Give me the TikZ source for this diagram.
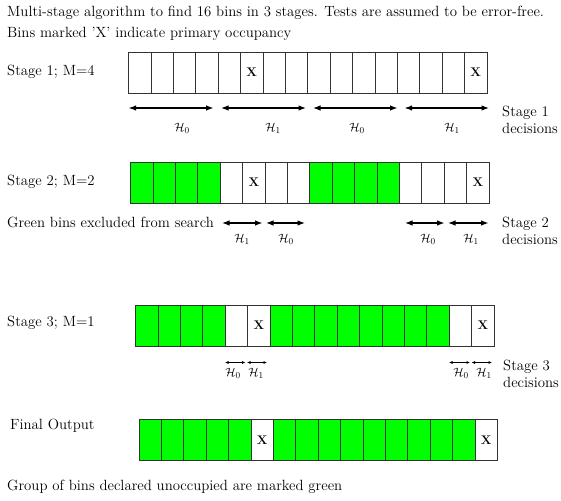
\documentclass[tikz,border=0pt]{standalone}
\usetikzlibrary{arrows.meta}
\definecolor{bingreen}{RGB}{0,255,0}
\begin{document}
\begin{tikzpicture}[x=1pt,y=-1pt,
  cell/.style={draw=black!80, line width=0.9pt, minimum width=22.4pt, minimum height=41pt, inner sep=0pt, outer sep=0pt},
  gcell/.style={cell, fill=bingreen},
  xmark/.style={inner sep=0pt, font=\fontsize{12.5}{12.5}\selectfont\bfseries},
  lbl/.style={anchor=west, inner sep=0pt, font=\fontsize{14.8}{17}\selectfont},
  declbl/.style={anchor=west, inner sep=0pt, align=left, font=\fontsize{14.8}{17}\selectfont},
  hyp/.style={inner sep=0pt, font=\fontsize{12.5}{12.5}\selectfont},
  bigdec/.style={{Latex[length=7.5pt,width=5.5pt]}-{Latex[length=7.5pt,width=5.5pt]}, line width=1.2pt},
  smalldec/.style={{Latex[length=3.5pt,width=3pt]}-{Latex[length=3.5pt,width=3pt]}, line width=0.8pt}
]
\useasboundingbox (0,0) rectangle (561,500);

% texts
\node[lbl] (title1) at (7,12.7) {Multi-stage algorithm to find 16 bins in 3 stages. Tests are assumed to be error-free.};
\node[lbl] (title2) at (7,34) {Bins marked 'X' indicate primary occupancy};
\node[lbl] (st1) at (7,72) {Stage 1; M=4};
\node[lbl] (st2) at (7,182) {Stage 2; M=2};
\node[lbl] (st3) at (7,323) {Stage 3; M=1};
\node[lbl] (fin) at (10,426) {Final Output};
\node[lbl] (green) at (7,222) {Green bins excluded from search};
\node[lbl] (bottom) at (7,487) {Group of bins declared unoccupied are marked green};

% Stage 1 row
\foreach \i in {1,...,16} {
  \node[cell] (a\i) at ({128.6+(\i-0.5)*22.4},72.5) {};
}
\node[xmark] at (a6) {X};
\node[xmark] at (a16) {X};

% Stage 2 row
\foreach \i in {1,...,16} {
  \pgfmathtruncatemacro{\g}{(\i<5) || (\i>8 && \i<13)}
  \ifnum\g=1
    \node[gcell] (b\i) at ({130.7+(\i-0.5)*22.4},182.5) {};
  \else
    \node[cell] (b\i) at ({130.7+(\i-0.5)*22.4},182.5) {};
  \fi
}
\node[xmark] at (b6) {X};
\node[xmark] at (b16) {X};

% Stage 3 row
\foreach \i in {1,...,16} {
  \pgfmathtruncatemacro{\g}{(\i<5) || (\i>6 && \i<15)}
  \ifnum\g=1
    \node[gcell] (c\i) at ({135.7+(\i-0.5)*22.4},325.5) {};
  \else
    \node[cell] (c\i) at ({135.7+(\i-0.5)*22.4},325.5) {};
  \fi
}
\node[xmark] at (c6) {X};
\node[xmark] at (c16) {X};

% Final row
\foreach \i in {1,...,16} {
  \pgfmathtruncatemacro{\g}{(\i!=6) && (\i!=16)}
  \ifnum\g=1
    \node[gcell] (d\i) at ({139+(\i-0.5)*22.4},440) {};
  \else
    \node[cell] (d\i) at ({139+(\i-0.5)*22.4},440) {};
  \fi
}
\node[xmark] at (d6) {X};
\node[xmark] at (d16) {X};

% Stage 1 decisions
\coordinate (p1) at (128.6,108); \coordinate (p2) at (213.6,108);
\coordinate (p3) at (221,108);   \coordinate (p4) at (306,108);
\coordinate (p5) at (313,108);   \coordinate (p6) at (397.5,108);
\coordinate (p7) at (404.6,108); \coordinate (p8) at (489,108);
\draw[bigdec] (p1) -- (p2);
\draw[bigdec] (p3) -- (p4);
\draw[bigdec] (p5) -- (p6);
\draw[bigdec] (p7) -- (p8);
\node[hyp] (h11) at (182,128) {$\mathcal{H}_0$};
\node[hyp] (h12) at (273,128) {$\mathcal{H}_1$};
\node[hyp] (h13) at (357,128) {$\mathcal{H}_0$};
\node[hyp] (h14) at (452,128) {$\mathcal{H}_1$};
\node[declbl] (dec1) at (502,120) {Stage 1\\decisions};

% Stage 2 decisions
\coordinate (q1) at (222,223); \coordinate (q2) at (262.5,223);
\coordinate (q3) at (266,223); \coordinate (q4) at (305,223);
\coordinate (q5) at (405,223); \coordinate (q6) at (444.6,223);
\coordinate (q7) at (448,223); \coordinate (q8) at (488.6,223);
\draw[bigdec] (q1) -- (q2);
\draw[bigdec] (q3) -- (q4);
\draw[bigdec] (q5) -- (q6);
\draw[bigdec] (q7) -- (q8);
\node[hyp] (h21) at (242,239) {$\mathcal{H}_1$};
\node[hyp] (h22) at (286,239) {$\mathcal{H}_0$};
\node[hyp] (h23) at (428,239) {$\mathcal{H}_0$};
\node[hyp] (h24) at (471,239) {$\mathcal{H}_1$};
\node[declbl] (dec2) at (502,230.5) {Stage 2\\decisions};

% Stage 3 decisions
\coordinate (r1) at (225,362.5); \coordinate (r2) at (245.5,362.5);
\coordinate (r3) at (247,362.5); \coordinate (r4) at (267,362.5);
\coordinate (r5) at (449,362.5); \coordinate (r6) at (470,362.5);
\coordinate (r7) at (471.5,362.5); \coordinate (r8) at (492,362.5);
\draw[smalldec] (r1) -- (r2);
\draw[smalldec] (r3) -- (r4);
\draw[smalldec] (r5) -- (r6);
\draw[smalldec] (r7) -- (r8);
\node[hyp] (h31) at (233,373) {$\mathcal{H}_0$};
\node[hyp] (h32) at (256,373) {$\mathcal{H}_1$};
\node[hyp] (h33) at (461,373) {$\mathcal{H}_0$};
\node[hyp] (h34) at (484,373) {$\mathcal{H}_1$};
\node[declbl] (dec3) at (503,374) {Stage 3\\decisions};
\end{tikzpicture}
\end{document}
